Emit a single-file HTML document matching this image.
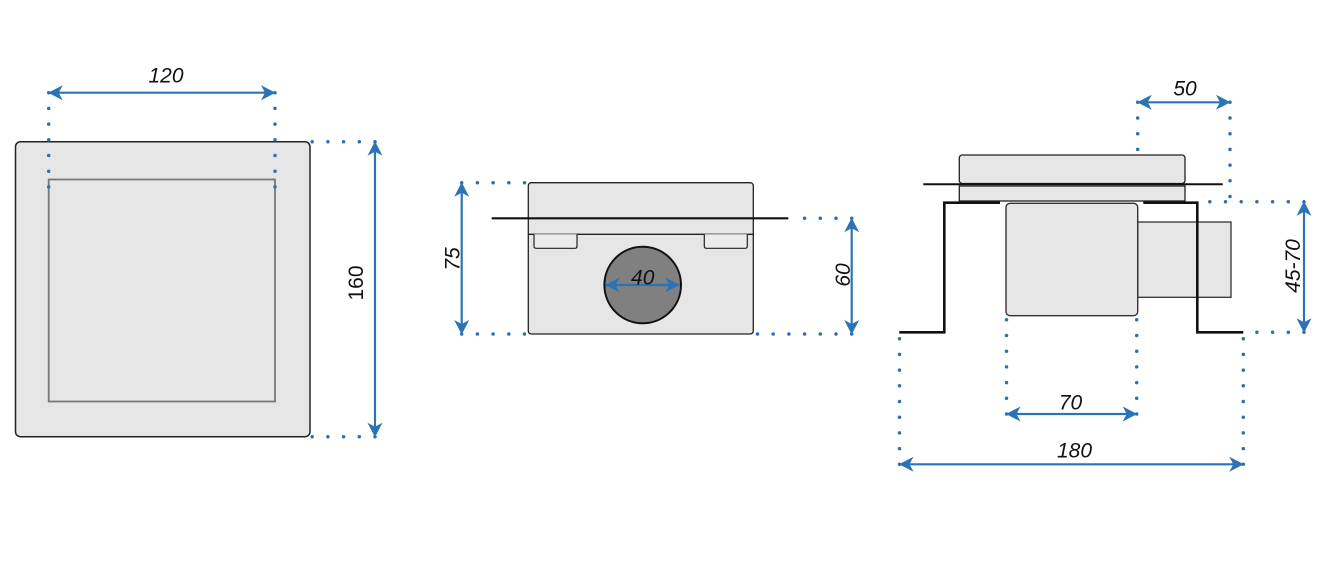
<!DOCTYPE html>
<html><head><meta charset="utf-8">
<style>
html,body{margin:0;padding:0;background:#fff;}
svg{display:block;}
text{font-family:"Liberation Sans",sans-serif;font-size:21px;fill:#111;}
</style></head>
<body>
<svg width="1323" height="573" viewBox="0 0 1323 573" xmlns="http://www.w3.org/2000/svg">
<defs>
<marker id="ah" viewBox="-16 -9 17 18" refX="0" refY="0" markerWidth="17" markerHeight="18" markerUnits="userSpaceOnUse" orient="auto-start-reverse" overflow="visible">
<path d="M0.5,0 L-14,-7.5 L-10,0 L-14,7.5 Z" fill="#2b73b6"/>
</marker>
</defs>

<!-- ============ Drawing 1 ============ -->
<rect x="15.5" y="141.7" width="294.5" height="295" rx="5" fill="#e6e6e6" stroke="#222" stroke-width="1.5"/>
<rect x="48.7" y="179.5" width="226.3" height="222" fill="#e6e6e6" stroke="#777" stroke-width="1.8"/>

<g stroke="#2f6fb0" stroke-width="3.5" stroke-linecap="round" stroke-dasharray="0 15.7" fill="none">
  <line x1="48.7" y1="92.7" x2="48.7" y2="187"/>
  <line x1="275" y1="92.7" x2="275" y2="187"/>
  <line x1="375" y1="141.7" x2="311" y2="141.7"/>
  <line x1="375" y1="436.7" x2="311" y2="436.7"/>
</g>
<g stroke="#2b73b6" stroke-width="2.2" fill="none">
  <line x1="48.7" y1="92.7" x2="275" y2="92.7" marker-start="url(#ah)" marker-end="url(#ah)"/>
  <line x1="375" y1="141.7" x2="375" y2="436.7" marker-start="url(#ah)" marker-end="url(#ah)"/>
</g>
<text x="166" y="82.3" text-anchor="middle" font-style="italic">120</text>
<text transform="translate(363,283) rotate(-90)" text-anchor="middle">160</text>

<!-- ============ Drawing 2 ============ -->
<rect x="528.3" y="182.7" width="225" height="151.3" rx="3" fill="#e6e6e6" stroke="#222" stroke-width="1.3"/>
<line x1="528.3" y1="234.3" x2="753.3" y2="234.3" stroke="#222" stroke-width="1.3"/>
<path d="M534,234.3 V246.3 Q534,248.3 536,248.3 H575 Q577,248.3 577,246.3 V234.3" fill="#ececec" stroke="#222" stroke-width="1.2"/>
<path d="M704.3,234.3 V246.3 Q704.3,248.3 706.3,248.3 H745.3 Q747.3,248.3 747.3,246.3 V234.3" fill="#ececec" stroke="#222" stroke-width="1.2"/>
<line x1="491.7" y1="218.3" x2="788.3" y2="218.3" stroke="#111" stroke-width="2.2"/>
<circle cx="642.7" cy="285" r="38.3" fill="#808080" stroke="#111" stroke-width="2"/>

<g stroke="#2f6fb0" stroke-width="3.5" stroke-linecap="round" stroke-dasharray="0 15.7" fill="none">
  <line x1="461.7" y1="182.7" x2="526" y2="182.7"/>
  <line x1="461.7" y1="334" x2="526" y2="334"/>
  <line x1="851.7" y1="218.3" x2="789" y2="218.3"/>
  <line x1="851.7" y1="334" x2="756" y2="334"/>
</g>
<g stroke="#2b73b6" stroke-width="2.2" fill="none">
  <line x1="461.7" y1="182.7" x2="461.7" y2="334" marker-start="url(#ah)" marker-end="url(#ah)"/>
  <line x1="851.7" y1="218.3" x2="851.7" y2="334" marker-start="url(#ah)" marker-end="url(#ah)"/>
  <line x1="605.7" y1="285" x2="679.3" y2="285" marker-start="url(#ah)" marker-end="url(#ah)"/>
</g>
<text x="642.7" y="284.3" text-anchor="middle" font-style="italic">40</text>
<text transform="translate(459.5,259) rotate(-90)" text-anchor="middle" font-style="italic">75</text>
<text transform="translate(850,275) rotate(-90)" text-anchor="middle" font-style="italic">60</text>

<!-- ============ Drawing 3 ============ -->
<rect x="959.3" y="155" width="225.7" height="28.5" rx="3" fill="#e6e6e6" stroke="#222" stroke-width="1.3"/>
<rect x="959.3" y="186" width="225.7" height="15" fill="#e6e6e6" stroke="#222" stroke-width="1.3"/>
<line x1="923.3" y1="184.3" x2="1222.7" y2="184.3" stroke="#111" stroke-width="2"/>

<rect x="1137.7" y="222" width="93.3" height="75.3" fill="#e6e6e6" stroke="#333" stroke-width="1.3"/>
<rect x="1006" y="203.3" width="131.7" height="112.4" rx="4" fill="#e6e6e6" stroke="#333" stroke-width="1.4"/>

<path d="M899.3,332.3 H944.3 V202.7 H1000" fill="none" stroke="#111" stroke-width="2.6"/>
<path d="M1143.3,202.7 H1197.3 V332.3 H1243.3" fill="none" stroke="#111" stroke-width="2.6"/>

<g stroke="#2f6fb0" stroke-width="3.5" stroke-linecap="round" stroke-dasharray="0 15.7" fill="none">
  <line x1="1137.7" y1="102.3" x2="1137.7" y2="150"/>
  <line x1="1230" y1="102.3" x2="1230" y2="212"/>
  <line x1="1304" y1="201.7" x2="1209" y2="201.7"/>
  <line x1="1304" y1="332.3" x2="1242" y2="332.3"/>
  <line x1="1006.5" y1="414" x2="1006.5" y2="318"/>
  <line x1="1136.7" y1="414" x2="1136.7" y2="318"/>
  <line x1="899.5" y1="464.3" x2="899.5" y2="338"/>
  <line x1="1243.3" y1="464.3" x2="1243.3" y2="338"/>
</g>
<g stroke="#2b73b6" stroke-width="2.2" fill="none">
  <line x1="1137.7" y1="102.3" x2="1230" y2="102.3" marker-start="url(#ah)" marker-end="url(#ah)"/>
  <line x1="1304" y1="201.7" x2="1304" y2="332.3" marker-start="url(#ah)" marker-end="url(#ah)"/>
  <line x1="1006.5" y1="414" x2="1136.7" y2="414" marker-start="url(#ah)" marker-end="url(#ah)"/>
  <line x1="899.5" y1="464.3" x2="1243.3" y2="464.3" marker-start="url(#ah)" marker-end="url(#ah)"/>
</g>
<text x="1185" y="95.7" text-anchor="middle" font-style="italic">50</text>
<text transform="translate(1300,266) rotate(-90)" text-anchor="middle" font-style="italic">45-70</text>
<text x="1070.5" y="409.3" text-anchor="middle" font-style="italic">70</text>
<text x="1074.5" y="457.7" text-anchor="middle" font-style="italic">180</text>
</svg>
</body></html>
